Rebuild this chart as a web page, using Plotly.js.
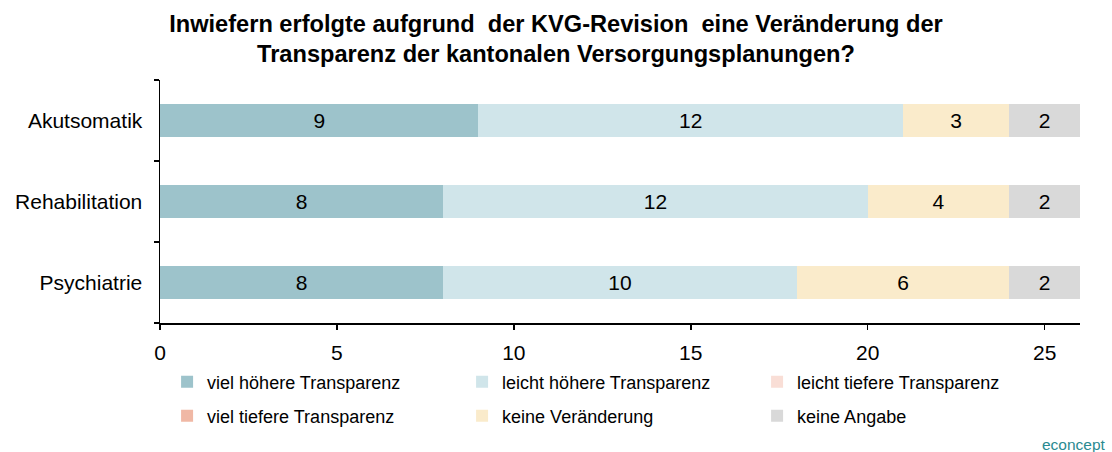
<!DOCTYPE html>
<html>
<head>
<meta charset="utf-8">
<script src="https://cdn.plot.ly/plotly-3.0.1.min.js"></script>
<style>html,body{margin:0;padding:0;background:#fff;}#chart{width:1112px;height:452px;}</style>
</head>
<body>
<div id="chart"></div>
<script>
const categories = ["Akutsomatik", "Rehabilitation", "Psychiatrie"];
const seriesNames = ["viel höhere Transparenz", "leicht höhere Transparenz", "leicht tiefere Transparenz",
                     "viel tiefere Transparenz", "keine Veränderung", "keine Angabe"];
const vielHoeher = [9, 8, 8];
const leichtHoeher = [12, 12, 10];
const leichtTiefer = [0, 0, 0];
const vielTiefer = [0, 0, 0];
const keineVeraenderung = [3, 4, 6];
const keineAngabe = [2, 2, 2];
const seriesValues = [vielHoeher, leichtHoeher, leichtTiefer, vielTiefer, keineVeraenderung, keineAngabe];
const seriesColors = ["#9DC3CB", "#D0E5EA", "#F9DED6", "#F0B8A5", "#FAEBCB", "#D9D9D9"];
const legendRow = ["legend", "legend", "legend", "legend2", "legend2", "legend2"];
const xTicks = [0, 5, 10, 15, 20, 25];

const FONT = "Liberation Sans, Arial, sans-serif";

const traces = seriesNames.map((name, i) => ({
  type: "bar",
  orientation: "h",
  name: name,
  legend: legendRow[i],
  y: categories,
  x: seriesValues[i],
  marker: {color: seriesColors[i], line: {width: 0}},
  text: seriesValues[i].map(v => v > 0 ? String(v) : ""),
  textposition: "inside",
  insidetextanchor: "middle",
  textfont: {family: FONT, size: 21, color: "#000"},
  hoverinfo: "x+name"
}));

const legendCommon = {
  orientation: "h", xanchor: "left", yanchor: "middle",
  traceorder: "normal",
  entrywidth: 250, entrywidthmode: "pixels",
  font: {family: FONT, size: 18, color: "#000"},
  itemwidth: 30, borderwidth: 0, bgcolor: "rgba(0,0,0,0)"
};

const layout = {
  width: 1112, height: 452,
  margin: {l: 160, r: 32, t: 80, b: 129, autoexpand: false},
  paper_bgcolor: "#fff", plot_bgcolor: "#fff",
  font: {family: FONT, color: "#000"},
  barmode: "stack",
  bargap: 0.6,
  title: {
    text: "<b>Inwiefern erfolgte aufgrund  der KVG-Revision  eine Veränderung der<br>Transparenz der kantonalen Versorgungsplanungen?</b>",
    font: {family: FONT, size: 23.6, color: "#000"},
    x: 0.5, xanchor: "center", y: 0.93, yanchor: "top"
  },
  xaxis: {
    range: [0, 26], tickvals: xTicks, ticktext: xTicks.map(String),
    showgrid: false, zeroline: false,
    showline: true, linecolor: "#000", linewidth: 1.5,
    ticks: "outside", ticklen: 5, tickwidth: 1.5, tickcolor: "#000",
    ticklabelstandoff: 5,
    tickfont: {family: FONT, size: 21, color: "#000"}
  },
  yaxis: {
    type: "category", categoryorder: "array", categoryarray: categories.slice().reverse(),
    tickson: "boundaries",
    showgrid: false, zeroline: false,
    showline: true, linecolor: "#000", linewidth: 1.5,
    ticks: "outside", ticklen: 5, tickwidth: 1.5, tickcolor: "#000",
    ticklabelstandoff: 12,
    tickfont: {family: FONT, size: 21, color: "#000"}
  },
  legend: Object.assign({}, legendCommon, {x: 0.0077, y: -0.243}),
  legend2: Object.assign({}, legendCommon, {x: 0.0077, y: -0.383}),
  showlegend: true,
  annotations: [{
    text: "econcept", xref: "paper", yref: "paper", x: 1.030, y: -0.498,
    xanchor: "right", yanchor: "middle", showarrow: false,
    font: {family: FONT, size: 15.5, color: "#2A8A91"}
  }]
};

Plotly.newPlot("chart", traces, layout, {displayModeBar: false, staticPlot: true});
</script>
</body>
</html>
